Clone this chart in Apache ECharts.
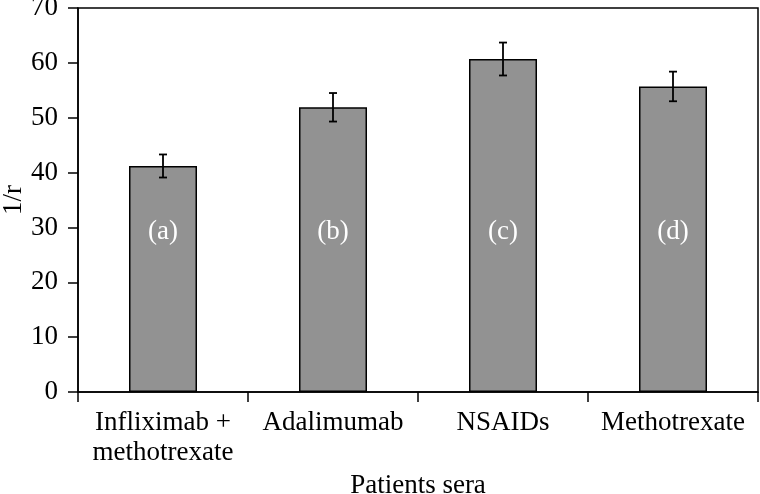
<!DOCTYPE html>
<html>
<head>
<meta charset="utf-8">
<script src="https://cdn.jsdelivr.net/npm/echarts@6/dist/echarts.min.js"></script>
<style>
html,body{margin:0;padding:0;background:#fff;}
#chart{width:760px;height:494px;}
</style>
</head>
<body>
<div id="chart"></div>
<script>
var categories = ['Infliximab +\nmethotrexate', 'Adalimumab', 'NSAIDs', 'Methotrexate'];
var values = [41.2, 51.9, 60.7, 55.7];
var errors = [2.1, 2.6, 3.0, 2.7];
var barLabels = ['(a)', '(b)', '(c)', '(d)'];
var yAxisName = '1/r';
var xAxisName = 'Patients sera';

var FONT = '"Liberation Serif", "DejaVu Serif", serif';
var chart = echarts.init(document.getElementById('chart'));

var errData = values.map(function (v, i) { return [i, v - errors[i], v + errors[i]]; });

chart.setOption({
  animation: false,
  backgroundColor: '#fff',
  grid: {
    left: 78, right: 2, top: 8, bottom: 102,
    containLabel: false,
    outerBoundsMode: 'none',
    show: true, borderColor: '#000', borderWidth: 1.5, backgroundColor: 'transparent'
  },
  xAxis: {
    type: 'category',
    data: categories,
    name: xAxisName,
    nameLocation: 'middle',
    nameGap: 80,
    nameMoveOverlap: false,
    nameTextStyle: { fontFamily: FONT, fontSize: 27, color: '#000' },
    axisLine: { lineStyle: { color: '#000', width: 1.5 } },
    axisTick: { show: true, length: 10, lineStyle: { color: '#000', width: 1.5 }, alignWithLabel: false },
    axisLabel: { fontFamily: FONT, fontSize: 27, color: '#000', lineHeight: 30, margin: 16, interval: 0 }
  },
  yAxis: {
    type: 'value',
    min: 0, max: 70, interval: 10,
    name: yAxisName,
    nameLocation: 'middle',
    nameGap: 51,
    nameRotate: 90,
    nameMoveOverlap: false,
    nameTextStyle: { fontFamily: FONT, fontSize: 27, color: '#000' },
    axisLine: { show: true, lineStyle: { color: '#000', width: 1.5 } },
    axisTick: { show: true, length: 10, lineStyle: { color: '#000', width: 1.5 } },
    axisLabel: { fontFamily: FONT, fontSize: 27, color: '#000', margin: 20 },
    splitLine: { show: false }
  },
  series: [
    {
      type: 'bar',
      data: values,
      barWidth: '40%',
      itemStyle: { color: '#929292', borderColor: '#000', borderWidth: 1.5 },
      label: {
        show: true,
        position: 'insideBottom',
        distance: 147,
        fontFamily: FONT, fontSize: 27, color: '#fff',
        formatter: function (p) { return barLabels[p.dataIndex]; }
      }
    },
    {
      type: 'custom',
      data: errData,
      z: 10,
      renderItem: function (params, api) {
        var x = api.value(0);
        var lo = api.coord([x, api.value(1)]);
        var hi = api.coord([x, api.value(2)]);
        var cw = 4;
        var st = { stroke: '#000', lineWidth: 1.8 };
        return {
          type: 'group',
          children: [
            { type: 'line', shape: { x1: hi[0], y1: hi[1], x2: lo[0], y2: lo[1] }, style: st },
            { type: 'line', shape: { x1: hi[0] - cw, y1: hi[1], x2: hi[0] + cw, y2: hi[1] }, style: st },
            { type: 'line', shape: { x1: lo[0] - cw, y1: lo[1], x2: lo[0] + cw, y2: lo[1] }, style: st }
          ]
        };
      }
    }
  ]
});
</script>
</body>
</html>
